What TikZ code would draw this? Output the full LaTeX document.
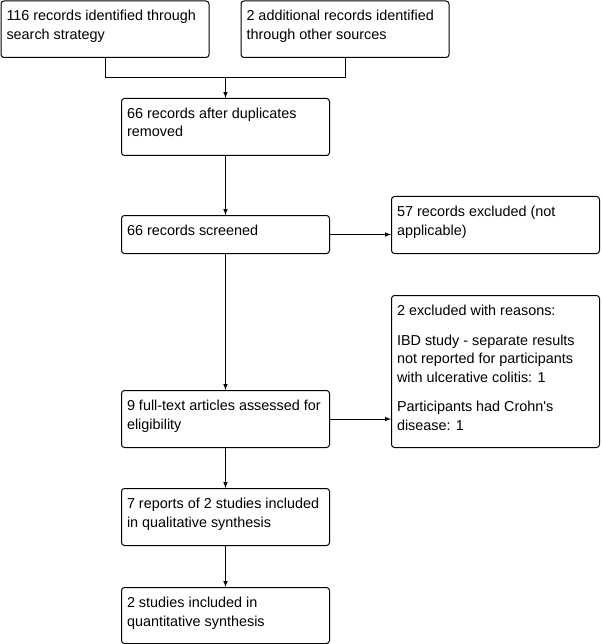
\documentclass[tikz,border=0pt]{standalone}
\usepackage{fontspec}
\setmainfont{Liberation Sans}
\usetikzlibrary{arrows}

% text set at the top of a box
\newcommand{\boxtxt}[2]{\parbox[c][#1][t]{197pt}{\rule{0pt}{20pt}#2}}

\tikzset{
    box/.style={draw, line width=1pt, rounded corners=3pt, anchor=north west,
        inner xsep=5.5pt, inner ysep=0pt,
        font=\fontsize{14.4}{18.5}\selectfont},
    link/.style={line width=1pt, -latex}
}

\begin{document}
\begin{tikzpicture}[x=1pt, y=-1pt]
    \useasboundingbox (0,0) rectangle (602,644);

    % 定义方框
    \node[box] (search) at (0.5,0.5) {\boxtxt{56.5pt}{116 records identified through\\search strategy}};
    \node[box] (other) at (240.5,0.5) {\boxtxt{56.5pt}{2 additional records identified\\through other sources}};
    \node[box] (dupl) at (121,98) {\boxtxt{57pt}{66 records after duplicates\\removed}};
    \node[box] (screen) at (121,215) {\boxtxt{38pt}{66 records screened}};
    \node[box] (excl) at (391,196) {\boxtxt{57pt}{57 records excluded (not\\applicable)}};
    \node[box] (full) at (121,390) {\boxtxt{57pt}{9 full-text articles assessed for\\eligibility}};
    \node[box] (reasons) at (391,295) {\boxtxt{152pt}{2 excluded with reasons:\\[11pt]IBD study - separate results\\not reported for participants\\with ulcerative colitis: 1\\[11pt]Participants had Crohn\textquotesingle s\\disease: 1}};
    \node[box] (qual) at (121,488) {\boxtxt{57pt}{7 reports of 2 studies included\\in qualitative synthesis}};
    \node[box] (quant) at (121,587) {\boxtxt{56pt}{2 studies included in\\quantitative synthesis}};

    \coordinate (join) at (dupl.north |- 0,78);

    % 连线
    \draw[line width=1pt] (search.south) |- (join);
    \draw[line width=1pt] (other.south) |- (join);
    \draw[link] (join) -- (dupl.north);
    \draw[link] (dupl.south) -- (screen.north);
    \draw[link] (screen.east) -- (screen.east -| excl.west);
    \draw[link] (screen.south) -- (full.north);
    \draw[link] (full.east) -- (full.east -| reasons.west);
    \draw[link] (full.south) -- (qual.north);
    \draw[link] (qual.south) -- (quant.north);

\end{tikzpicture}
\end{document}
